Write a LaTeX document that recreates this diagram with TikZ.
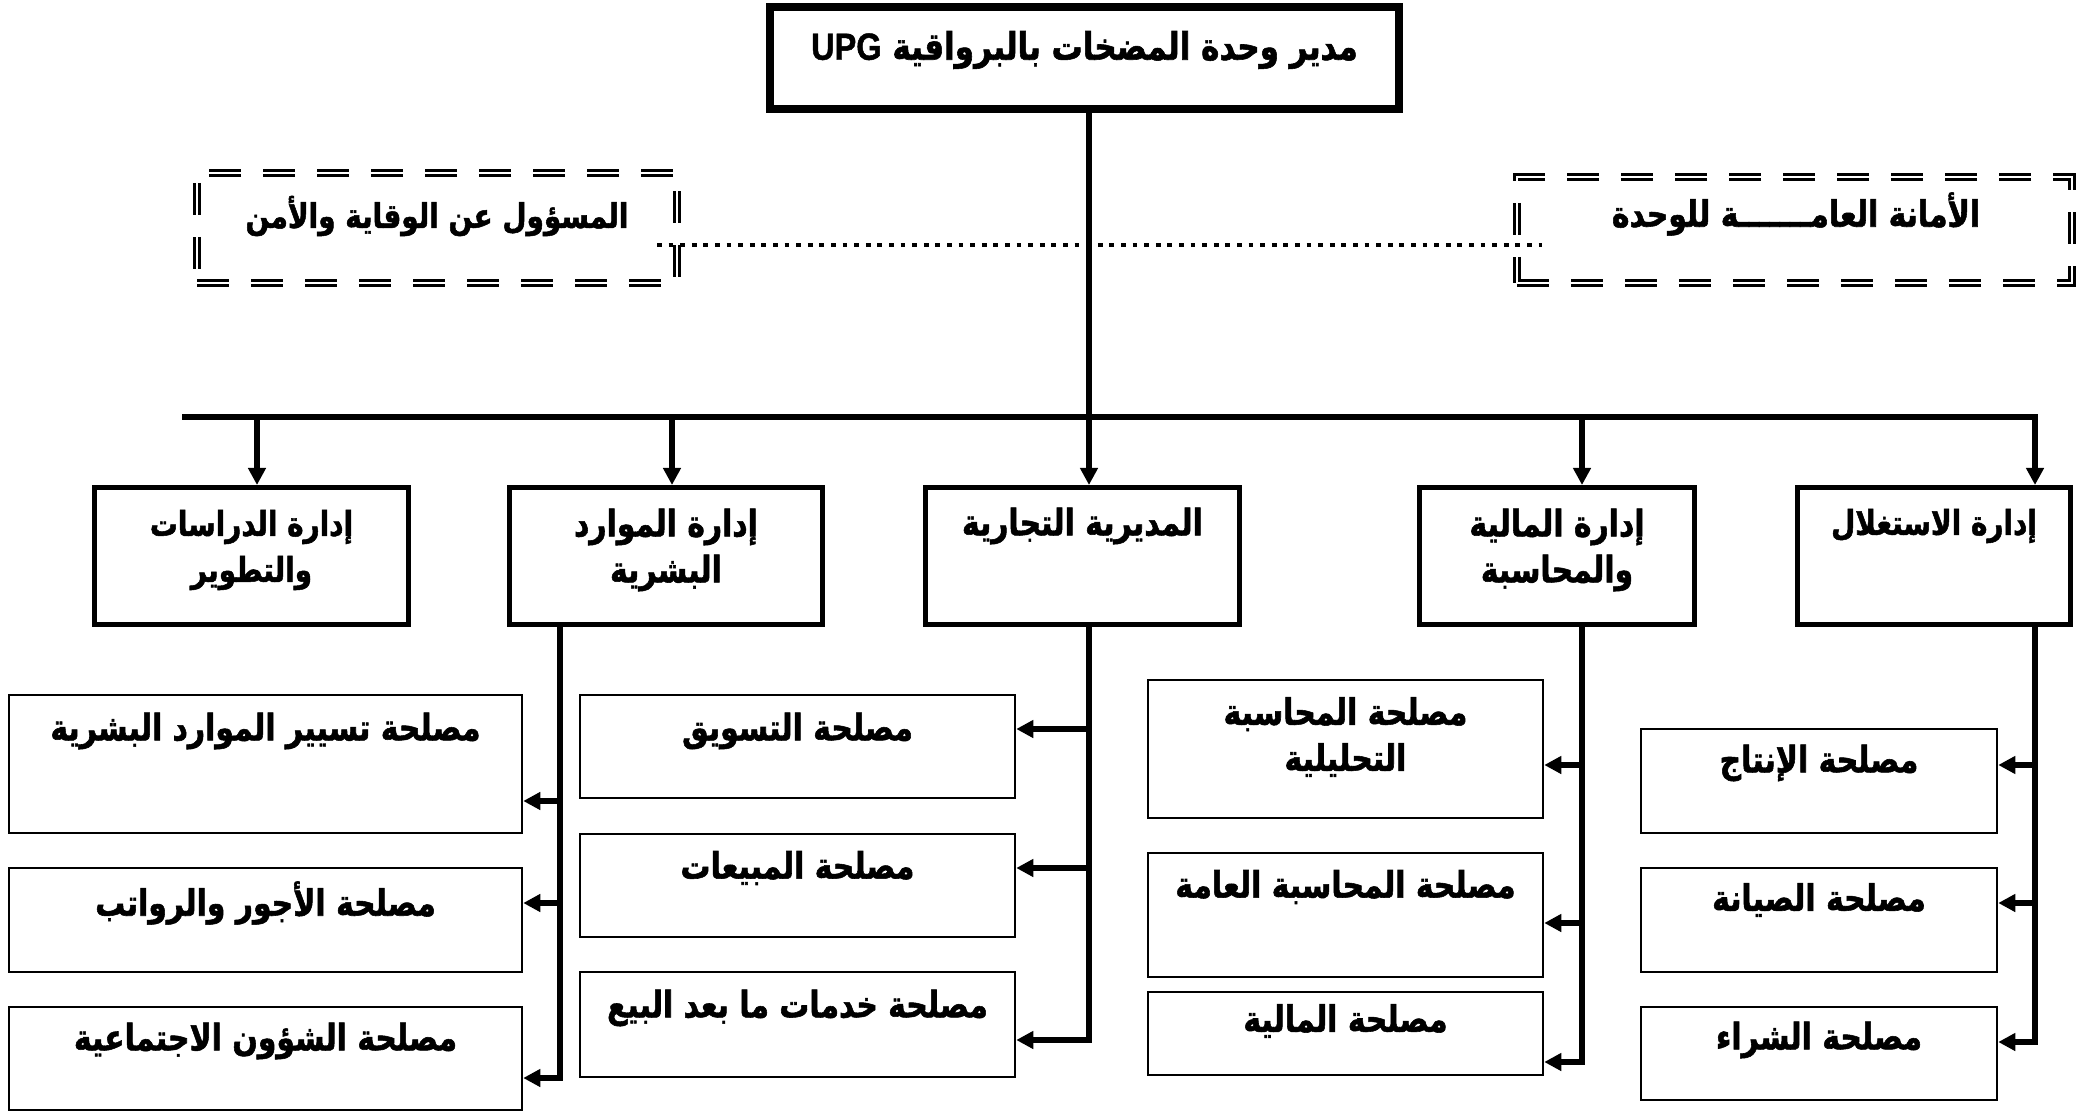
\documentclass[tikz,border=0pt]{standalone}
\usepackage{fontspec}
\usetikzlibrary{arrows.meta}
\TeXXeTstate=1
\newfontfamily\arabicfont[Script=Arabic, FakeStretch=0.82, BoldFeatures={FakeBold=1.5}]{DejaVu Sans}
\newfontfamily\latinfont[FakeStretch=0.86, BoldFeatures={FakeBold=1.2}]{Liberation Sans}
\begin{document}
\begin{tikzpicture}[x=0.5pt,y=-0.5pt,
  topbox/.style={draw, line width=4pt, inner sep=0pt},
  deptbox/.style={draw, line width=2.5pt, inner sep=0pt, minimum height=68.5pt},
  svcbox/.style={draw, line width=1.25pt, inner sep=0pt},
  dbox/.style={draw, line width=1.3pt, double, double distance=1.2pt, dash pattern=on 16pt off 11pt, inner sep=0pt},
  conn/.style={line width=2.8pt},
  arr/.style={conn, -{Triangle[length=8.5pt,width=8.5pt]}},
  dots/.style={line width=2.4pt, dash pattern=on 2.4pt off 3.4pt},
  txt/.style={font=\arabicfont\bfseries\fontsize{18.2}{23}\selectfont, align=center, inner sep=0pt},
  smalltxt/.style={txt, font=\arabicfont\bfseries\fontsize{17}{23}\selectfont},
  toptxt/.style={font=\arabicfont\bfseries\fontsize{18.9}{20}\selectfont, align=center, inner sep=0pt},
]
\useasboundingbox (0,0) rectangle (2094,1112);
\fill[white] (0,0) rectangle (2094,1112);

% top box
\node[topbox, minimum width=314.5pt, minimum height=51pt] (T) at (1084.5,58) {};
\node[toptxt] (Tt) at (1084.5,50) {\beginR مدير وحدة المضخات بالبرواقية {\latinfont\bfseries\beginL UPG\endL}\endR};

% dashed boxes
\node[dbox, minimum width=240pt, minimum height=55pt] (LB) at (437,228) {};
\node[smalltxt] (LBt) at (437,216) {\beginR المسؤول عن الوقاية والأمن\endR};
\node[dbox, minimum width=277.5pt, minimum height=53pt] (RB) at (1794.5,230) {};
\node[txt] (RBt) at (1796,214) {\beginR الأمانة العامـــــــة للوحدة\endR};

% department boxes
\node[deptbox, minimum width=157pt] (B1) at (251.5,556) {};
\node[deptbox, minimum width=156.5pt] (B2) at (666,556) {};
\node[deptbox, minimum width=157pt] (B3) at (1082.5,556) {};
\node[deptbox, minimum width=137.5pt] (B4) at (1557,556) {};
\node[deptbox, minimum width=136.5pt] (B5) at (1934,556) {};
\node[smalltxt] (B1t) at (251.5,550) {\beginR إدارة الدراسات\endR\\\beginR والتطوير\endR};
\node[txt] (B2t) at (666,550) {\beginR إدارة الموارد\endR\\\beginR البشرية\endR};
\node[txt] (B3t) at (1082.5,526) {\beginR المديرية التجارية\endR};
\node[txt] (B4t) at (1557,550) {\beginR إدارة المالية\endR\\\beginR والمحاسبة\endR};
\node[smalltxt] (B5t) at (1934,526) {\beginR إدارة الاستغلال\endR};

% service boxes: human resources
\node[svcbox, minimum width=256.5pt, minimum height=69pt] (L1) at (265.5,764) {};
\node[svcbox, minimum width=256.5pt, minimum height=52pt] (L2) at (265.5,920) {};
\node[svcbox, minimum width=256.5pt, minimum height=51.5pt] (L3) at (265.5,1058.5) {};
\node[txt] (L1t) at (265.5,731) {\beginR مصلحة تسيير الموارد البشرية\endR};
\node[txt] (L2t) at (265.5,903) {\beginR مصلحة الأجور والرواتب\endR};
\node[txt] (L3t) at (265.5,1041) {\beginR مصلحة الشؤون الاجتماعية\endR};

% commercial
\node[svcbox, minimum width=217.5pt, minimum height=51.5pt] (M1) at (797.5,746.5) {};
\node[svcbox, minimum width=217.5pt, minimum height=51.5pt] (M2) at (797.5,885.5) {};
\node[svcbox, minimum width=217.5pt, minimum height=52.5pt] (M3) at (797.5,1024.5) {};
\node[txt] (M1t) at (797.5,731) {\beginR مصلحة التسويق\endR};
\node[txt] (M2t) at (797.5,868) {\beginR مصلحة المبيعات\endR};
\node[txt] (M3t) at (797.5,1008) {\beginR مصلحة خدمات ما بعد البيع\endR};

% finance
\node[svcbox, minimum width=197.5pt, minimum height=69pt] (F1) at (1345.5,749) {};
\node[svcbox, minimum width=197.5pt, minimum height=62pt] (F2) at (1345.5,915) {};
\node[svcbox, minimum width=197.5pt, minimum height=41.5pt] (F3) at (1345.5,1033.5) {};
\node[txt] (F1t) at (1345.5,737) {\beginR مصلحة المحاسبة\endR\\\beginR التحليلية\endR};
\node[txt] (F2t) at (1345.5,887) {\beginR مصلحة المحاسبة العامة\endR};
\node[txt] (F3t) at (1345.5,1021) {\beginR مصلحة المالية\endR};

% exploitation
\node[svcbox, minimum width=178pt, minimum height=52pt] (P1) at (1819,781) {};
\node[svcbox, minimum width=178pt, minimum height=52pt] (P2) at (1819,920) {};
\node[svcbox, minimum width=178pt, minimum height=46.5pt] (P3) at (1819,1053.5) {};
\node[txt] (P1t) at (1819,763) {\beginR مصلحة الإنتاج\endR};
\node[txt] (P2t) at (1819,900) {\beginR مصلحة الصيانة\endR};
\node[txt] (P3t) at (1819,1040) {\beginR مصلحة الشراء\endR};

% bus
\coordinate (busL) at (182,417);
\coordinate (busM) at (1089,417);
\coordinate (busR) at (2035,417);
\draw[conn] (T.south -| busM) -- (busM);
\draw[arr] (busL) -- (busR) -- (busR |- B5.north);
\coordinate (a1) at (257,417);
\coordinate (a2) at (672,417);
\coordinate (a4) at (1582,417);
\draw[arr] (a1) -- (a1 |- B1.north);
\draw[arr] (a2) -- (a2 |- B2.north);
\draw[arr] (busM) -- (busM |- B3.north);
\draw[arr] (a4) -- (a4 |- B4.north);

% dotted staff line
\coordinate (d1) at (657,245);
\coordinate (d2) at (1542,245);
\draw[dots] (d1) -- (d2);

% HR trunk
\coordinate (v2) at (560,1078);
\coordinate (l1b) at (560,801);
\coordinate (l2b) at (560,903);
\draw[arr] (B2.south -| v2) -- (v2) -- (v2 -| L3.east);
\draw[arr] (l1b) -- (l1b -| L1.east);
\draw[arr] (l2b) -- (l2b -| L2.east);

% commercial trunk
\coordinate (v3) at (1089,1040);
\coordinate (m1b) at (1089,729);
\coordinate (m2b) at (1089,868);
\draw[arr] (B3.south -| v3) -- (v3) -- (v3 -| M3.east);
\draw[arr] (m1b) -- (m1b -| M1.east);
\draw[arr] (m2b) -- (m2b -| M2.east);

% finance trunk
\coordinate (v4) at (1582,1062);
\coordinate (f1b) at (1582,765);
\coordinate (f2b) at (1582,923);
\draw[arr] (B4.south -| v4) -- (v4) -- (v4 -| F3.east);
\draw[arr] (f1b) -- (f1b -| F1.east);
\draw[arr] (f2b) -- (f2b -| F2.east);

% exploitation trunk
\coordinate (v5) at (2035,1042);
\coordinate (p1b) at (2035,765);
\coordinate (p2b) at (2035,903);
\draw[arr] (B5.south -| v5) -- (v5) -- (v5 -| P3.east);
\draw[arr] (p1b) -- (p1b -| P1.east);
\draw[arr] (p2b) -- (p2b -| P2.east);
\end{tikzpicture}
\end{document}
